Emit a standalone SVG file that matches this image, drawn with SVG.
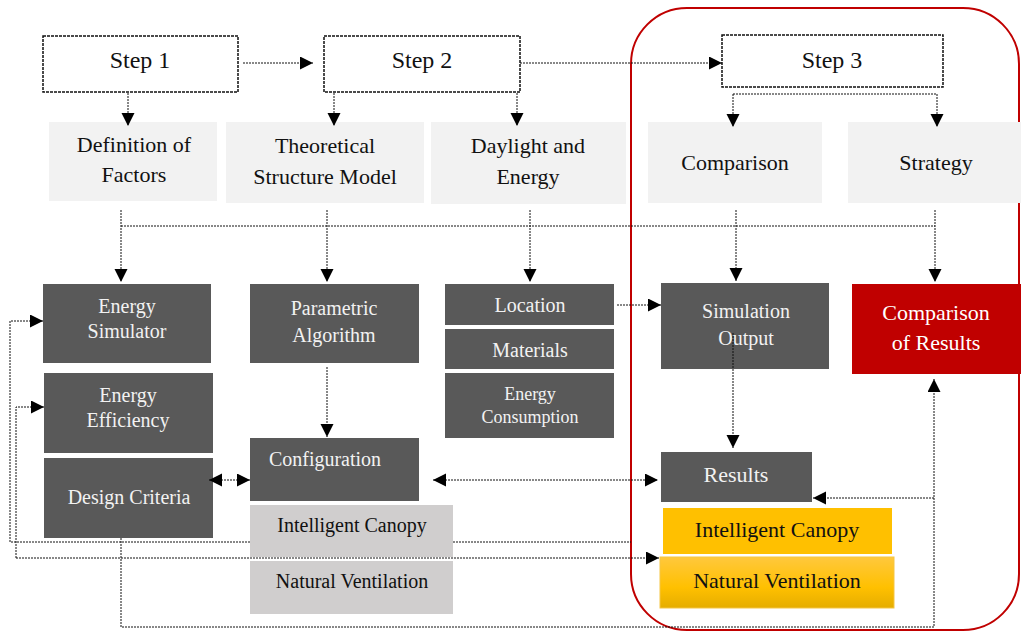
<svg xmlns="http://www.w3.org/2000/svg" width="1021" height="632" viewBox="0 0 1021 632">
<style>
.step{fill:#fff;stroke:#111;stroke-width:1.5;stroke-dasharray:3 1}
.light{fill:#f2f2f2}
.dark{fill:#595959}
.gray{fill:#d0cece}
.red{fill:#c00000}
.yel{fill:#ffc000}
text{font-family:"Liberation Serif","Times New Roman",serif;text-anchor:middle}
.tk{fill:#111;font-size:22px}
.tw{fill:#f2f2f2;font-size:20px}
.tg{fill:#111;font-size:20px}
.c{fill:none;stroke:#111;stroke-width:1;stroke-dasharray:2 1}
.a{marker-end:url(#ah)}
.d{marker-start:url(#ah);marker-end:url(#ah)}
</style>
<defs>
<marker id="ah" markerUnits="userSpaceOnUse" markerWidth="14" markerHeight="14" refX="13" refY="6.5" orient="auto-start-reverse">
<path d="M0,0 L13,6.5 L0,13 z" fill="#000"/>
</marker>
<linearGradient id="yg" x1="0" y1="0" x2="0" y2="1">
<stop offset="0" stop-color="#ffc83d"/>
<stop offset="0.6" stop-color="#ffc000"/>
<stop offset="1" stop-color="#e5ad00"/>
</linearGradient>
</defs>

<rect x="631" y="8" width="388" height="622" rx="56" ry="56" fill="none" stroke="#c00000" stroke-width="2"/>

<g id="step1"><rect class="step" x="43" y="36" width="195" height="56"/><text class="tk" style="font-size:24px" x="140" y="68">Step 1</text></g>
<g id="step2"><rect class="step" x="324" y="36" width="196" height="56"/><text class="tk" style="font-size:24px" x="422" y="68">Step 2</text></g>
<g id="step3"><rect class="step" x="722" y="35" width="221" height="52"/><text class="tk" style="font-size:24px" x="832" y="68">Step 3</text></g>

<g id="definition"><rect class="light" x="49" y="122" width="168" height="79"/><text class="tk" x="134" y="152">Definition of</text><text class="tk" x="134" y="182">Factors</text></g>
<g id="theoretical"><rect class="light" x="226" y="122" width="198" height="81"/><text class="tk" x="325" y="153">Theoretical</text><text class="tk" x="325" y="184">Structure Model</text></g>
<g id="daylight"><rect class="light" x="431" y="122" width="195" height="82"/><text class="tk" x="528" y="153">Daylight and</text><text class="tk" x="528" y="184">Energy</text></g>
<g id="comparison"><rect class="light" x="648" y="122" width="174" height="81"/><text class="tk" x="735" y="170">Comparison</text></g>
<g id="strategy"><rect class="light" x="848" y="122" width="173" height="81"/><text class="tk" x="936" y="170">Strategy</text></g>

<g id="energy-simulator"><rect class="dark" x="43" y="284" width="168" height="79"/><text class="tw" x="127" y="313">Energy</text><text class="tw" x="127" y="338">Simulator</text></g>
<g id="energy-efficiency"><rect class="dark" x="44" y="373" width="169" height="80"/><text class="tw" x="128" y="402">Energy</text><text class="tw" x="128" y="427">Efficiency</text></g>
<g id="design-criteria"><rect class="dark" x="44" y="458" width="169" height="80"/><text class="tw" x="129" y="504">Design Criteria</text></g>
<g id="parametric"><rect class="dark" x="250" y="284" width="169" height="79"/><text class="tw" x="334" y="315">Parametric</text><text class="tw" x="334" y="342">Algorithm</text></g>
<g id="configuration"><rect class="dark" x="250" y="438" width="169" height="63"/><text class="tw" x="325" y="466">Configuration</text></g>
<g id="ic-gray"><rect class="gray" x="250" y="505" width="203" height="52"/><text class="tg" x="352" y="532">Intelligent Canopy</text></g>
<g id="nv-gray"><rect class="gray" x="250" y="561" width="203" height="53"/><text class="tg" x="352" y="588">Natural Ventilation</text></g>
<g id="location"><rect class="dark" x="445" y="284" width="169" height="41"/><text class="tw" x="530" y="312">Location</text></g>
<g id="materials"><rect class="dark" x="445" y="329" width="169" height="40"/><text class="tw" x="530" y="357">Materials</text></g>
<g id="energy-consumption"><rect class="dark" x="445" y="373" width="169" height="65"/><text class="tw" style="font-size:18px" x="530" y="400">Energy</text><text class="tw" style="font-size:18px" x="530" y="423">Consumption</text></g>
<g id="simulation-output"><rect class="dark" x="661" y="283" width="168" height="86"/><text class="tw" x="746" y="318">Simulation</text><text class="tw" x="746" y="345">Output</text></g>
<g id="comparison-results"><rect class="red" x="852" y="284" width="169" height="90"/><text class="tw" style="font-size:22px;fill:#fff" x="936" y="320">Comparison</text><text class="tw" style="font-size:22px;fill:#fff" x="936" y="350">of Results</text></g>
<g id="results"><rect class="dark" x="661" y="452" width="151" height="50"/><text class="tw" style="font-size:22px" x="736" y="482">Results</text></g>
<g id="ic-yellow"><rect class="yel" x="663" y="508" width="229" height="46"/><text class="tk" x="777" y="537">Intelligent Canopy</text></g>
<g id="nv-yellow"><rect fill="url(#yg)" stroke="#f5c542" stroke-width="1" x="660" y="557" width="234" height="51"/><text class="tk" x="777" y="588">Natural Ventilation</text></g>

<g id="connectors">
<line class="c a" x1="243" y1="63" x2="313" y2="63"/>
<line class="c a" x1="520" y1="63" x2="722" y2="63"/>
<line class="c a" x1="128" y1="93" x2="128" y2="126"/>
<line class="c a" x1="334" y1="93" x2="334" y2="126"/>
<line class="c a" x1="517" y1="93" x2="517" y2="126"/>
<polyline class="c" points="733,94 937,94"/>
<line class="c a" x1="733" y1="94" x2="733" y2="127"/>
<line class="c a" x1="937" y1="94" x2="937" y2="127"/>
<line class="c" x1="121" y1="226" x2="935" y2="226"/>
<line class="c a" x1="121" y1="210" x2="121" y2="282"/>
<line class="c a" x1="327" y1="210" x2="327" y2="282"/>
<line class="c a" x1="530" y1="210" x2="530" y2="282"/>
<line class="c a" x1="736" y1="210" x2="736" y2="281"/>
<line class="c a" x1="935" y1="210" x2="935" y2="282"/>
<line class="c a" x1="327" y1="367" x2="327" y2="437"/>
<line class="c a" x1="733" y1="333" x2="733" y2="448"/>
<line class="c a" x1="617" y1="305" x2="661" y2="305"/>
<line class="c d" x1="209" y1="480" x2="250" y2="480"/>
<line class="c d" x1="433" y1="480" x2="658" y2="480"/>
<polyline class="c a" points="250,542 10,542 10,321 43,321"/>
<line class="c" x1="453" y1="542" x2="631" y2="542"/>
<polyline class="c a" points="16,558 16,407 44,407"/>
<line class="c a" x1="16" y1="558" x2="659" y2="558"/>
<polyline class="c a" points="121,538 121,627 934,627 934,379"/>
<line class="c a" x1="934" y1="498" x2="813" y2="498"/>
</g>
</svg>
